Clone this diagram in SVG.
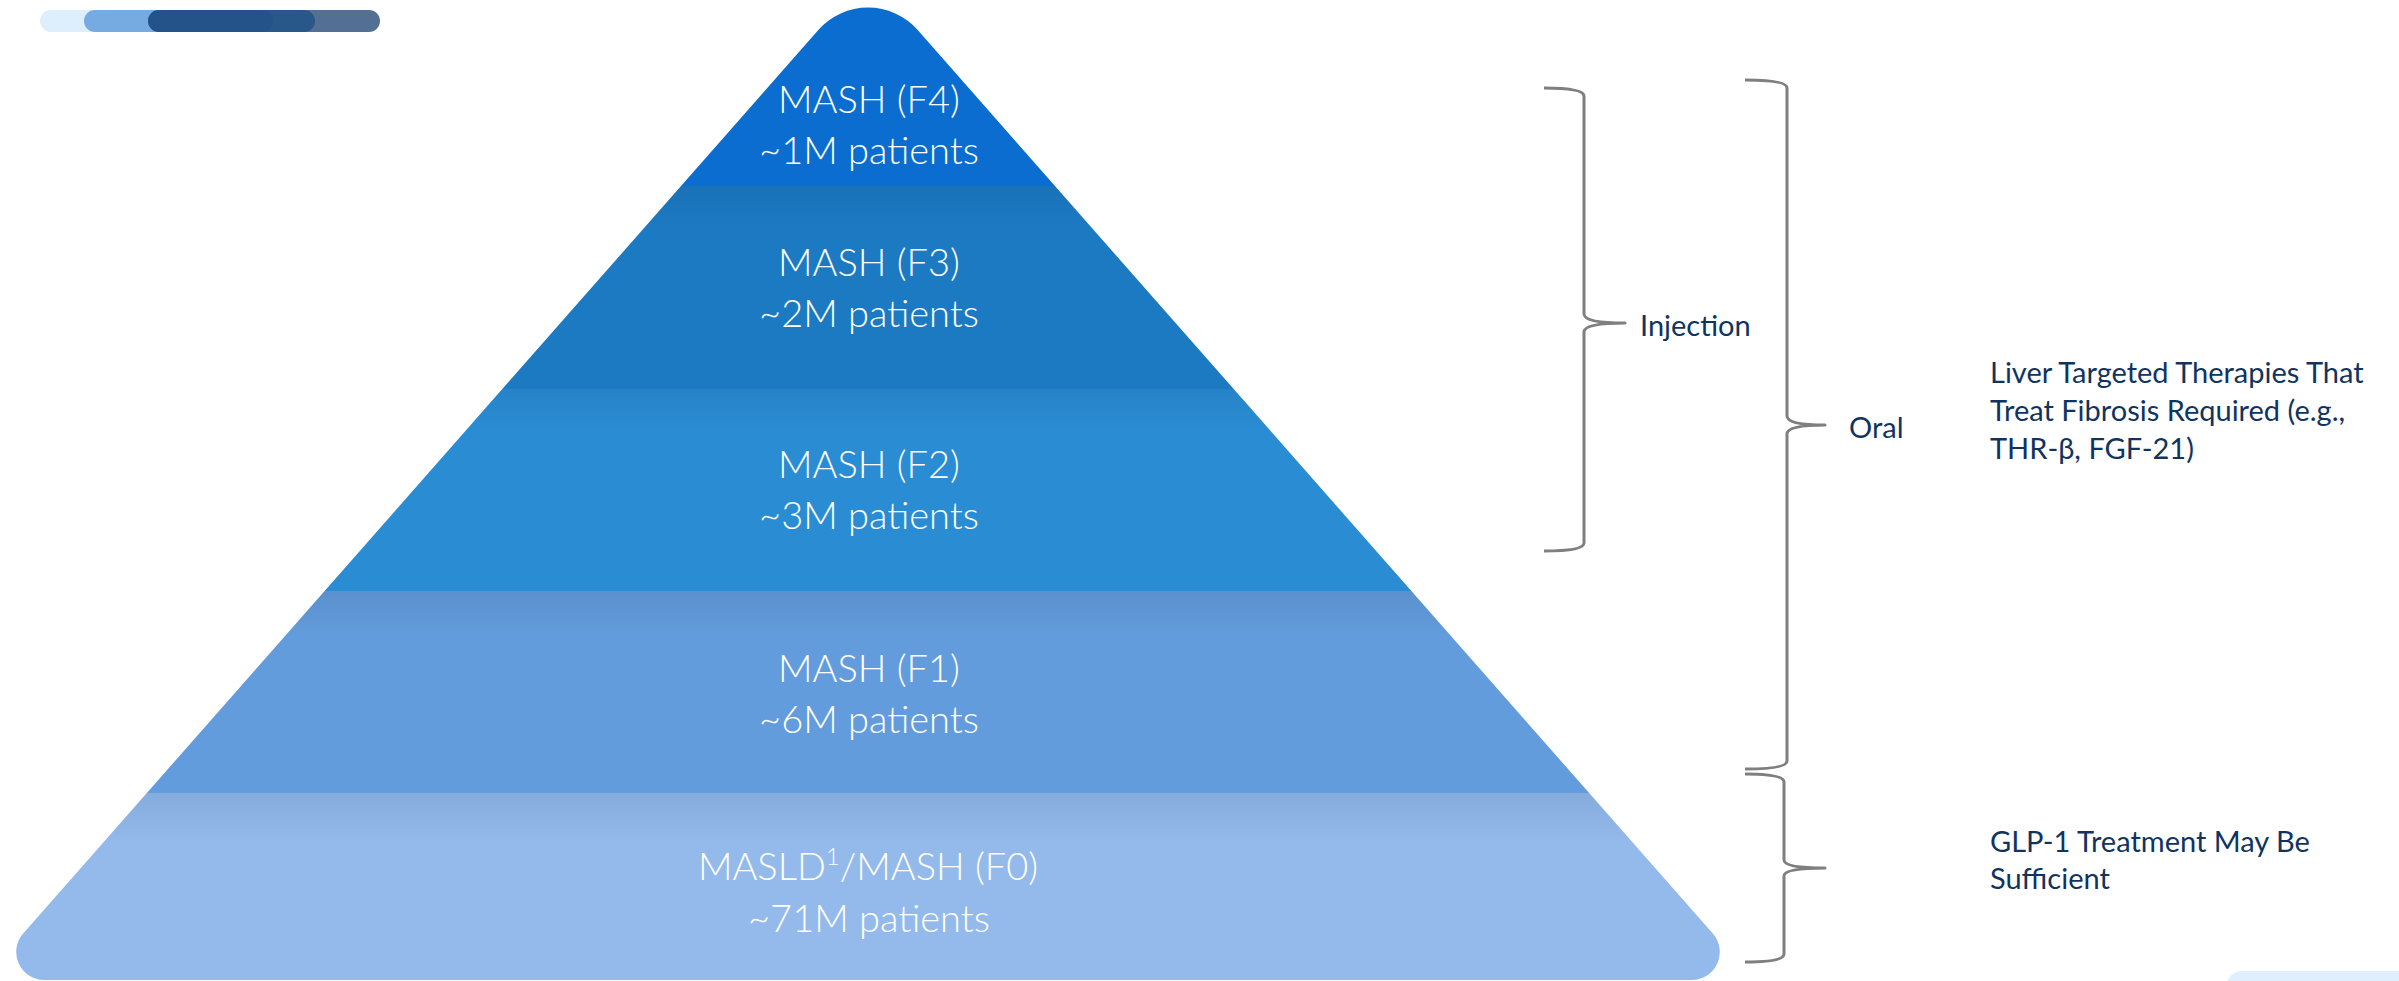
<svg xmlns="http://www.w3.org/2000/svg" width="2399" height="981" viewBox="0 0 2399 981">
  <style>
    .tier { font-family: "Lato", "Open Sans", "Liberation Sans", sans-serif; font-weight: 300; font-size: 38px; fill: #FFFFFF; text-anchor: middle; }
    .note { font-family: "Lato", "Open Sans", "Liberation Sans", sans-serif; font-weight: 400; font-size: 29px; fill: #10345F; }
    .brace { fill: none; stroke: #7F7F7F; stroke-width: 3; stroke-linecap: butt; stroke-linejoin: round; }
  </style>
  <defs>
    <!-- rounded pyramid outline -->
    <clipPath id="pyramid">
      <path d="M 818.3 30 A 66.3 66.3 0 0 1 917.7 30 L 1712.8 933.5 A 28 28 0 0 1 1691.8 980 L 44.2 980 A 28 28 0 0 1 23.2 933.5 Z"/>
    </clipPath>
    <!-- soft shade under each tier edge -->
    <linearGradient id="shade" x1="0" y1="0" x2="0" y2="1">
      <stop offset="0" stop-color="#0A2A50" stop-opacity="0.10"/>
      <stop offset="1" stop-color="#0A2A50" stop-opacity="0"/>
    </linearGradient>
  </defs>

  <!-- header bars -->
  <g id="header-bars">
    <rect x="40" y="10" width="130" height="22" rx="11" fill="#DDEEFD"/>
    <rect x="84" y="10" width="150" height="22" rx="11" fill="#76ABE1"/>
    <rect x="220" y="10" width="160" height="22" rx="11" fill="#536F93"/>
    <rect x="148" y="10" width="167" height="22" rx="11" fill="#28588A"/>
    <rect x="148" y="10" width="125" height="22" rx="11" fill="#22508A" opacity="0.6"/>
  </g>

  <!-- pyramid tiers -->
  <g clip-path="url(#pyramid)">
    <g id="tier-f4">
      <rect x="0" y="0" width="1800" height="186" fill="#0A6DCF"/>
    </g>
    <g id="tier-f3">
      <rect x="0" y="186" width="1800" height="203" fill="#1C7AC3"/>
      <rect x="0" y="186" width="1800" height="45" fill="url(#shade)"/>
    </g>
    <g id="tier-f2">
      <rect x="0" y="389" width="1800" height="202" fill="#2A8DD4"/>
      <rect x="0" y="389" width="1800" height="45" fill="url(#shade)"/>
    </g>
    <g id="tier-f1">
      <rect x="0" y="591" width="1800" height="202" fill="#639CDC"/>
      <rect x="0" y="591" width="1800" height="45" fill="url(#shade)"/>
    </g>
    <g id="tier-f0">
      <rect x="0" y="793" width="1800" height="190" fill="#93BAEB"/>
      <rect x="0" y="793" width="1800" height="50" fill="url(#shade)"/>
    </g>
  </g>

  <!-- tier labels -->
  <g id="label-f4">
    <text class="tier" x="869" y="113">MASH (F4)</text>
    <text class="tier" x="869" y="164">~1M patients</text>
  </g>
  <g id="label-f3">
    <text class="tier" x="869" y="276">MASH (F3)</text>
    <text class="tier" x="869" y="327">~2M patients</text>
  </g>
  <g id="label-f2">
    <text class="tier" x="869" y="478">MASH (F2)</text>
    <text class="tier" x="869" y="529">~3M patients</text>
  </g>
  <g id="label-f1">
    <text class="tier" x="869" y="682">MASH (F1)</text>
    <text class="tier" x="869" y="733">~6M patients</text>
  </g>
  <g id="label-f0">
    <text class="tier" x="868" y="880">MASLD<tspan font-size="24" dy="-15">1</tspan><tspan dy="15">/MASH (F0)</tspan></text>
    <text class="tier" x="869" y="932">~71M patients</text>
  </g>

  <!-- braces -->
  <g id="connectors">
    <path class="brace" d="M 1544 88 Q 1584 88 1584 96 L 1584 314 Q 1584 323 1625 323 Q 1584 323 1584 332 L 1584 543 Q 1584 551 1544 551"/>
    <path class="brace" d="M 1745 80 Q 1787 80 1787 88 L 1787 416 Q 1787 425 1825 425 Q 1787 425 1787 434 L 1787 761 Q 1787 769 1745 769"/>
    <path class="brace" d="M 1745 774 Q 1784 774 1784 782 L 1784 860 Q 1784 868 1825 868 Q 1784 868 1784 876 L 1784 954 Q 1784 962 1745 962"/>
  </g>

  <!-- route and treatment notes -->
  <g id="note-injection">
    <text class="note" x="1640" y="336">Injection</text>
  </g>
  <g id="note-oral">
    <text class="note" x="1849" y="438">Oral</text>
  </g>
  <g id="note-liver">
    <text class="note" x="1990" y="383">Liver Targeted Therapies That</text>
    <text class="note" x="1990" y="421">Treat Fibrosis Required (e.g.,</text>
    <text class="note" x="1990" y="459">THR-β, FGF-21)</text>
  </g>
  <g id="note-glp1">
    <text class="note" x="1990" y="852">GLP-1 Treatment May Be</text>
    <text class="note" x="1990" y="889">Sufficient</text>
  </g>

  <!-- corner tab -->
  <rect x="2226" y="971" width="220" height="40" rx="16" fill="#DFEFFD"/>
</svg>
